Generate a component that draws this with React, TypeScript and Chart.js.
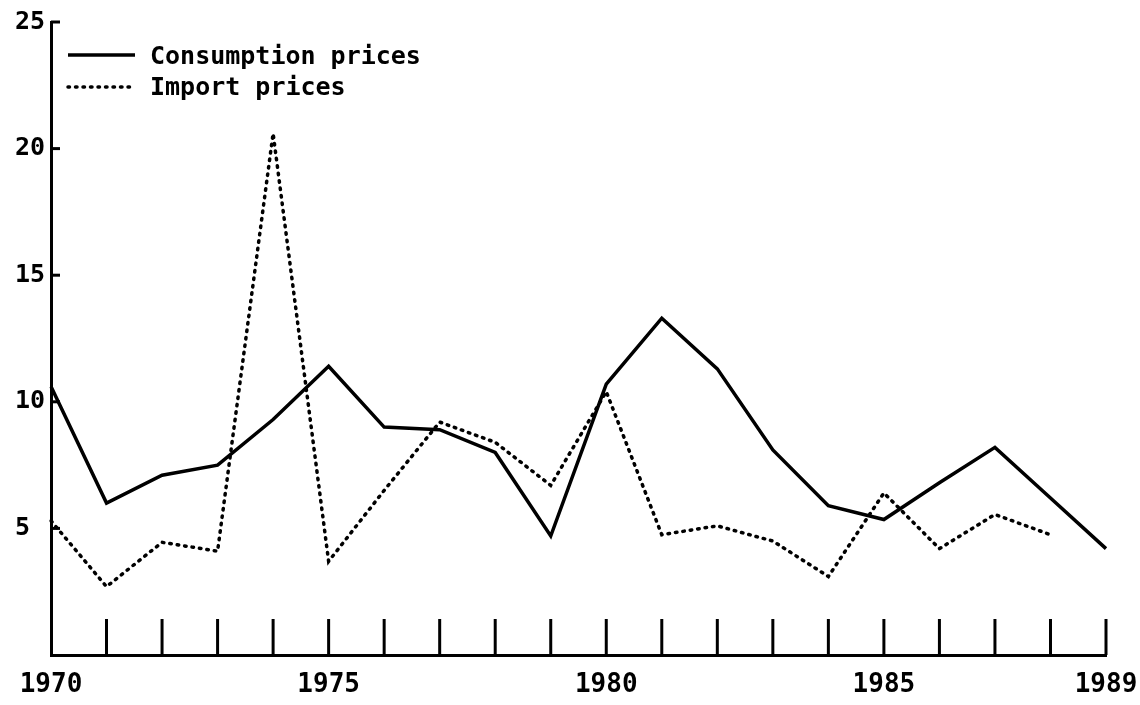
import React, { useEffect, useRef } from "react";
import { Chart, registerables } from "chart.js";

Chart.register(...registerables);

const years = ["1970", "1971", "1972", "1973", "1974", "1975", "1976", "1977", "1978", "1979", "1980", "1981", "1982", "1983", "1984", "1985", "1986", "1987", "1988", "1989"];
const consumptionPrices = [10.6, 6.0, 7.1, 7.5, 9.3, 11.4, 9.0, 8.9, 8.0, 4.7, 10.7, 13.3, 11.3, 8.1, 5.9, 5.35, 6.8, 8.2, 6.2, 4.2];
const importPrices = [5.3, 2.7, 4.45, 4.1, 20.6, 3.7, 6.5, 9.2, 8.4, 6.7, 10.4, 4.75, 5.1, 4.5, 3.1, 6.4, 4.2, 5.55, 4.75, null];
const labelledYears = ["1970", "1975", "1980", "1985", "1989"];
const yTicks = [5, 10, 15, 20, 25];

const FONT = "'DejaVu Sans Mono', monospace";

const axisDecor = {
  id: "axisDecor",
  afterDatasetsDraw(chart: any) {
    const { ctx, chartArea, scales } = chart;
    const x = scales.x;
    const y = scales.y;
    ctx.save();
    ctx.strokeStyle = "#000";
    ctx.lineWidth = 3;
    ctx.lineCap = "butt";
    // inward vertical year ticks
    for (let i = 1; i < years.length; i++) {
      const px = x.getPixelForValue(i);
      ctx.beginPath();
      ctx.moveTo(px, chartArea.bottom);
      ctx.lineTo(px, chartArea.bottom - 36);
      ctx.stroke();
    }
    // inward y ticks
    for (const v of yTicks) {
      const py = y.getPixelForValue(v);
      ctx.beginPath();
      ctx.moveTo(chartArea.left, py);
      ctx.lineTo(chartArea.left + 9, py);
      ctx.stroke();
    }
    // legend
    const ds = chart.data.datasets;
    const rows = [
      { yLine: chartArea.top + 33, yText: chartArea.top + 35 },
      { yLine: chartArea.top + 65, yText: chartArea.top + 66 },
    ];
    ds.forEach((d: any, i: number) => {
      const r = rows[i];
      ctx.save();
      ctx.strokeStyle = "#000";
      ctx.lineWidth = d.borderWidth;
      ctx.lineCap = d.borderCapStyle || "butt";
      ctx.setLineDash(d.borderDash || []);
      ctx.beginPath();
      ctx.moveTo(chartArea.left + 17, r.yLine);
      ctx.lineTo(chartArea.left + 84, r.yLine);
      ctx.stroke();
      ctx.restore();
      ctx.fillStyle = "#000";
      ctx.font = `bold 25px ${FONT}`;
      ctx.textBaseline = "middle";
      ctx.textAlign = "left";
      ctx.fillText(d.label, chartArea.left + 99, r.yText);
    });
    ctx.restore();
  },
};

export default function App() {
  const ref = useRef<HTMLCanvasElement | null>(null);
  useEffect(() => {
    if (!ref.current) return;
    const chart = new Chart(ref.current, {
      type: "line",
      data: {
        labels: years,
        datasets: [
          {
            label: "Consumption prices",
            data: consumptionPrices,
            borderColor: "#000",
            borderWidth: 3.5,
            pointRadius: 0,
            tension: 0,
            fill: false,
          },
          {
            label: "Import prices",
            data: importPrices,
            borderColor: "#000",
            borderWidth: 3.5,
            borderDash: [1.5, 6],
            borderCapStyle: "round",
            pointRadius: 0,
            tension: 0,
            fill: false,
            spanGaps: false,
          },
        ],
      },
      options: {
        responsive: false,
        animation: false,
        layout: { padding: { left: 15, right: 34, top: 22, bottom: 0 } },
        plugins: { legend: { display: false }, tooltip: { enabled: false } },
        scales: {
          x: {
            type: "category",
            offset: false,
            grid: { display: false, drawTicks: false },
            border: { display: true, color: "#000", width: 3 },
            ticks: {
              autoSkip: false,
              maxRotation: 0,
              padding: 15,
              color: "#000",
              font: { family: FONT, size: 26, weight: "bold" },
              callback: (_v: any, i: number) => (labelledYears.includes(years[i]) ? years[i] : ""),
            },
            afterFit: (s: any) => {
              s.height = 50;
              s.paddingLeft = 0;
              s.paddingRight = 0;
            },
          },
          y: {
            min: 0,
            max: 25,
            grid: { display: false, drawTicks: false },
            border: { display: true, color: "#000", width: 3 },
            ticks: {
              stepSize: 5,
              crossAlign: "far",
              color: "#000",
              font: { family: FONT, size: 25, weight: "bold" },
              callback: (v: any) => (yTicks.includes(Number(v)) ? String(v) : ""),
            },
            afterFit: (s: any) => {
              s.width = 36;
              s.paddingTop = 0;
              s.paddingBottom = 0;
            },
          },
        },
      },
      plugins: [axisDecor],
    });
    return () => chart.destroy();
  }, []);
  return (
    <div style={{ position: "absolute", left: 0, top: 0, width: 1140, height: 705, background: "#fff" }}>
      <canvas ref={ref} width={1140} height={705} />
    </div>
  );
}
